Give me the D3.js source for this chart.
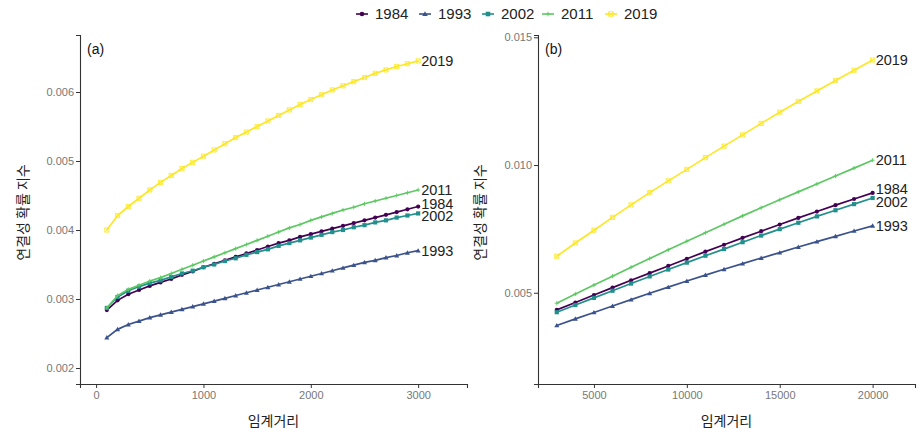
<!DOCTYPE html>
<html><head><meta charset="utf-8">
<script src="https://cdn.jsdelivr.net/npm/d3@7"></script>
<style>body{margin:0;background:#fff}svg{display:block}</style>
</head><body>
<svg id="c" width="921" height="435"></svg>
<script>
const years = ["1984","1993","2002","2011","2019"];
const colors = ["#440154","#3B528B","#21908C","#5DC863","#FDE725"];
const shapes = ["circle","triangle","square","plus","squarecross"];

// Panel (a): threshold distance 100..3000
const distA = [100,200,300,400,500,600,700,800,900,1000,1100,1200,1300,1400,1500,1600,1700,1800,1900,2000,2100,2200,2300,2400,2500,2600,2700,2800,2900,3000];
const a1984 = [.00284,.00298,.00307,.00313,.00319,.00324,.00329,.00335,.00340,.00346,.00351,.00356,.00361,.00366,.00371,.00376,.00381,.00385,.00390,.00394,.00398,.00402,.00406,.00410,.00414,.00418,.00422,.00426,.00430,.00434];
const a1993 = [.00244,.00256,.00263,.00268,.00273,.00277,.00281,.00285,.00289,.00293,.00297,.00301,.00305,.00309,.00313,.00317,.00321,.00325,.00329,.00333,.00337,.00341,.00345,.00349,.00353,.00356,.00360,.00363,.00367,.00370];
const a2002 = [.00287,.00303,.00312,.00318,.00323,.00327,.00332,.00337,.00341,.00346,.00350,.00355,.00359,.00364,.00368,.00372,.00377,.00381,.00385,.00389,.00393,.00397,.00400,.00404,.00407,.00411,.00414,.00418,.00421,.00424];
const a2011 = [.00287,.00305,.00314,.00320,.00326,.00331,.00337,.00343,.00349,.00355,.00361,.00367,.00373,.00379,.00385,.00391,.00397,.00403,.00408,.00414,.00419,.00424,.00429,.00433,.00438,.00442,.00446,.00450,.00454,.00458];
const a2019 = [.00400,.00421,.00434,.00446,.00458,.00469,.00479,.00489,.00498,.00507,.00516,.00525,.00534,.00542,.00550,.00558,.00566,.00574,.00582,.00589,.00596,.00603,.00609,.00615,.00621,.00627,.00632,.00637,.00641,.00645];

// Panel (b): threshold distance 3000..20000
const distB = [3000,4000,5000,6000,7000,8000,9000,10000,11000,12000,13000,14000,15000,16000,17000,18000,19000,20000];
const b1984 = [.00433,.00462,.00491,.00520,.00549,.00577,.00605,.00633,.00661,.00688,.00715,.00741,.00767,.00793,.00818,.00843,.00867,.00891];
const b1993 = [.00372,.00398,.00423,.00448,.00473,.00498,.00522,.00546,.00569,.00592,.00614,.00636,.00657,.00679,.00700,.00721,.00742,.00762];
const b2002 = [.00424,.00452,.00480,.00508,.00536,.00564,.00591,.00618,.00645,.00671,.00698,.00724,.00749,.00774,.00799,.00823,.00847,.00871];
const b2011 = [.00459,.00495,.00530,.00565,.00600,.00634,.00668,.00702,.00735,.00768,.00801,.00833,.00864,.00895,.00926,.00957,.00988,.01019];
const b2019 = [.00643,.00695,.00745,.00795,.00844,.00892,.00938,.00983,.01029,.01074,.01118,.01163,.01207,.01249,.01290,.01331,.01371,.01411];

const ticksAx = [0,1000,2000,3000];
const ticksAy = [0.002,0.003,0.004,0.005,0.006];
const ticksBx = [5000,10000,15000,20000];
const ticksBy = [0.005,0.010,0.015];
const yTitle = "연결성 확률 지수";
const xTitle = "임계거리";

const svg = d3.select("#c");
const FONT = "'Liberation Sans', Arial, 'Noto Sans CJK KR', sans-serif";
const KFONT = "'Noto Sans CJK KR', 'Liberation Sans', sans-serif";

function marker(g, shape, x, y, col, s) {
  s = s || 2.3;
  if (shape === "circle") {
    g.append("circle").attr("cx", x).attr("cy", y).attr("r", s).attr("fill", col);
  } else if (shape === "triangle") {
    const h = s * 1.2;
    g.append("path").attr("d", `M${x},${y-h}L${x+h},${y+h*0.75}L${x-h},${y+h*0.75}Z`).attr("fill", col);
  } else if (shape === "square") {
    g.append("rect").attr("x", x-s).attr("y", y-s).attr("width", 2*s).attr("height", 2*s).attr("fill", col);
  } else if (shape === "plus") {
    g.append("path").attr("d", `M${x-s},${y}H${x+s}M${x},${y-s}V${y+s}`).attr("stroke", col).attr("stroke-width", 0.9).attr("fill","none");
  } else {
    g.append("path").attr("d", `M${x-s},${y-s}H${x+s}V${y+s}H${x-s}ZM${x-s},${y-s}L${x+s},${y+s}M${x+s},${y-s}L${x-s},${y+s}`).attr("stroke", col).attr("stroke-width", 0.8).attr("fill","none");
  }
}

function panel(opt) {
  const g = svg.append("g");
  const x = d3.scaleLinear().domain(opt.xd).range([opt.x0, opt.x1]);
  const y = d3.scaleLinear().domain(opt.yd).range([opt.y1, opt.y0]);

  const xa = g.append("g").attr("transform", `translate(0,${opt.y1})`)
    .call(d3.axisBottom(x).tickValues(opt.xt).tickSize(4).tickPadding(3).tickFormat(d3.format("d")));
  const ya = g.append("g").attr("transform", `translate(${opt.x0},0)`)
    .call(d3.axisLeft(y).tickValues(opt.yt).tickSize(4).tickPadding(2).tickFormat(d3.format(".3f")));
  [xa, ya].forEach(a => {
    a.select(".domain").attr("stroke", "#333").attr("stroke-width", 1.1);
    a.selectAll(".tick line").attr("stroke", "#333");
    a.selectAll(".tick text").attr("fill", "#777").style("font-family", FONT).style("font-size", "11px");
  });

  const line = d3.line().x((d, i) => x(opt.xs[i])).y(d => y(d));
  const labels = [];
  opt.series.forEach((vals, k) => {
    g.append("path").datum(vals).attr("d", line).attr("fill", "none")
      .attr("stroke", colors[k]).attr("stroke-width", 1.7);
    const mg = g.append("g");
    vals.forEach((v, i) => marker(mg, shapes[k], x(opt.xs[i]), y(v), colors[k], 2.1));
    labels.push({k, x: x(opt.xs[opt.xs.length-1]), y: y(vals[vals.length-1])});
  });
  // simple repel so end labels do not overlap
  labels.sort((a, b) => a.y - b.y);
  for (let it = 0; it < 20; it++) {
    for (let i = 1; i < labels.length; i++) {
      const gap = labels[i].y - labels[i-1].y;
      if (gap < 12.5) { const d = (12.5 - gap) / 2; labels[i].y += d; labels[i-1].y -= d; }
    }
  }
  labels.forEach(l => {
    g.append("text").attr("x", l.x + 3).attr("y", l.y).attr("dy", "0.36em")
      .attr("fill", "#222").style("font-family", FONT).style("font-size", "14.5px").text(years[l.k]);
  });

  g.append("text").attr("x", opt.x0 + 7).attr("y", opt.y0 + 19)
    .attr("fill", "#111").style("font-family", FONT).style("font-size", "14px").text(opt.tag);

  g.append("text").attr("transform", `translate(${opt.ytx},${(opt.y0 + opt.y1)/2 + 3}) rotate(-90)`)
    .attr("text-anchor", "middle").attr("dy", "0.35em")
    .attr("fill", "#222").style("font-family", KFONT).style("font-size", "14px").text(yTitle);
  g.append("text").attr("x", (opt.x0 + opt.x1)/2).attr("y", 421).attr("dy", "0.35em")
    .attr("text-anchor", "middle")
    .attr("fill", "#222").style("font-family", KFONT).style("font-size", "14px").text(xTitle);
}

panel({
  x0: 80, x1: 467, y0: 35, y1: 384,
  xd: [-150, 3455], yd: [0.001768, 0.006826],
  xt: ticksAx, yt: ticksAy, xs: distA,
  series: [a1984, a1993, a2002, a2011, a2019], tag: "(a)", ytx: 23
});
panel({
  x0: 538, x1: 915, y0: 35, y1: 384,
  xd: [1990, 22280], yd: [0.001429, 0.01509],
  xt: ticksBx, yt: ticksBy, xs: distB,
  series: [b1984, b1993, b2002, b2011, b2019], tag: "(b)", ytx: 480
});

// legend
const lg = svg.append("g");
const legX = [362, 425, 488, 548, 611];
years.forEach((yr, k) => {
  const cx = legX[k], cy = 14;
  lg.append("line").attr("x1", cx - 6).attr("x2", cx + 6).attr("y1", cy).attr("y2", cy)
    .attr("stroke", colors[k]).attr("stroke-width", 1.6);
  marker(lg, shapes[k], cx, cy, colors[k], 2.3);
  lg.append("text").attr("x", cx + 13).attr("y", cy).attr("dy", "0.36em")
    .attr("fill", "#222").style("font-family", FONT).style("font-size", "15px").text(yr);
});
</script>
</body></html>
